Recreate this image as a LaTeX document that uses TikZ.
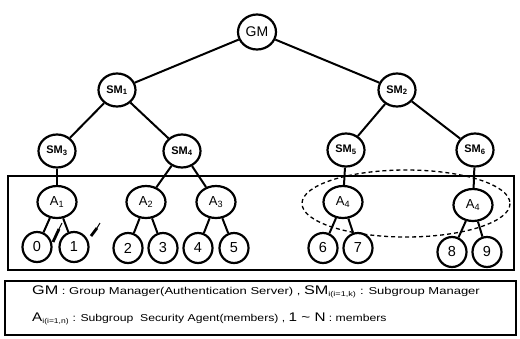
\documentclass[tikz,border=0pt]{standalone}
\usepackage{fontspec}
\setmainfont{Liberation Sans}
\newfontfamily\legfont[FakeStretch=1.3]{Liberation Sans}
\newfontfamily\legfontb[FakeStretch=1.22]{Liberation Sans}
\usetikzlibrary{shapes.geometric}
\newcommand{\lgsz}{\fontsize{12.5}{12.5}\selectfont}
\begin{document}
\begin{tikzpicture}[x=1pt,y=-1pt,
 nd/.style={ellipse, draw, line width=2.2pt, inner sep=0pt},
 gmn/.style={nd, minimum width=38pt, minimum height=35pt, font=\fontsize{14}{14}\selectfont},
 smn/.style={nd, minimum width=37pt, minimum height=33pt, font=\bfseries\fontsize{11}{11}\selectfont},
 an/.style={nd, minimum width=39pt, minimum height=32pt, font=\fontsize{13}{13}\selectfont},
 lf/.style={nd, minimum width=29pt, minimum height=30pt, font=\fontsize{14.5}{14.5}\selectfont},
 edge/.style={line width=2pt},
 frame/.style={draw, line width=2pt},
 legend/.style={anchor=west, inner sep=0pt, font=\legfont\fontsize{10}{10}\selectfont},
 legendb/.style={anchor=west, inner sep=0pt, font=\legfontb\fontsize{10}{10}\selectfont},
 ]
\useasboundingbox (0,0) rectangle (520,338);
% frames
\draw[frame] (8,176) rectangle (514,270);
\draw[frame] (5,281) rectangle (516,335);
% tree nodes
\node[gmn] (gm) at (257,32) {GM};
\node[smn] (sm1) at (117,90) {SM\textsubscript{1}};
\node[smn] (sm2) at (397,90) {SM\textsubscript{2}};
\node[smn] (sm3) at (57,151) {SM\textsubscript{3}};
\node[smn] (sm4) at (182,151) {SM\textsubscript{4}};
\node[smn] (sm5) at (346,150) {SM\textsubscript{5}};
\node[smn] (sm6) at (475,150) {SM\textsubscript{6}};
\node[an] (a1) at (57,202) {A\textsubscript{1}};
\node[an] (a2) at (146,202) {A\textsubscript{2}};
\node[an] (a3) at (216,202) {A\textsubscript{3}};
\node[an] (a4) at (343,202) {A\textsubscript{4}};
\node[an] (a4b) at (473,205) {A\textsubscript{4}};
\node[lf] (l0) at (37,247) {0};
\node[lf] (l1) at (74,247) {1};
\node[lf] (l2) at (128,248) {2};
\node[lf] (l3) at (163,248) {3};
\node[lf] (l4) at (198,248) {4};
\node[lf] (l5) at (234,248) {5};
\node[lf] (l6) at (323,248) {6};
\node[lf] (l7) at (358,248) {7};
\node[lf] (l8) at (452,252) {8};
\node[lf] (l9) at (487,252) {9};
% edges
\draw[edge] (gm) -- (sm1);
\draw[edge] (gm) -- (sm2);
\draw[edge] (sm1) -- (sm3);
\draw[edge] (sm1) -- (sm4);
\draw[edge] (sm2) -- (sm5);
\draw[edge] (sm2) -- (sm6);
\draw[edge] (sm3) -- (a1);
\draw[edge] (sm4) -- (a2);
\draw[edge] (sm4) -- (a3);
\draw[edge] (sm5) -- (a4);
\draw[edge] (sm6) -- (a4b);
\draw[edge] (a1) -- (l0);
\draw[edge] (a1) -- (l1);
\draw[edge] (a2) -- (l2);
\draw[edge] (a2) -- (l3);
\draw[edge] (a3) -- (l4);
\draw[edge] (a3) -- (l5);
\draw[edge] (a4) -- (l6);
\draw[edge] (a4) -- (l7);
\draw[edge] (a4b) -- (l8);
\draw[edge] (a4b) -- (l9);
% pointer marks
\draw[line width=2.8pt] (53,242) -- (59,229);
\draw[line width=1pt] (59,229) -- (62,223);
\draw[line width=2.8pt] (91,236) -- (97,228);
\draw[line width=1pt] (97,228) -- (100,223);
% dashed ellipse
\draw[line width=1.3pt, dash pattern=on 4pt off 3pt] (406,203.5) ellipse [x radius=104, y radius=33.5];
% legend
\node[legend] (t1) at (32,292) {{\lgsz GM} : Group Manager(Authentication Server) , {\lgsz SM}\textsubscript{i(i=1,k)} : Subgroup Manager};
\node[legendb] (t2) at (32,319) {{\lgsz A}\textsubscript{i(i=1,n)} : Subgroup\ \ Security Agent(members) , {\lgsz 1 \textasciitilde{} N} : members};
\end{tikzpicture}
\end{document}
